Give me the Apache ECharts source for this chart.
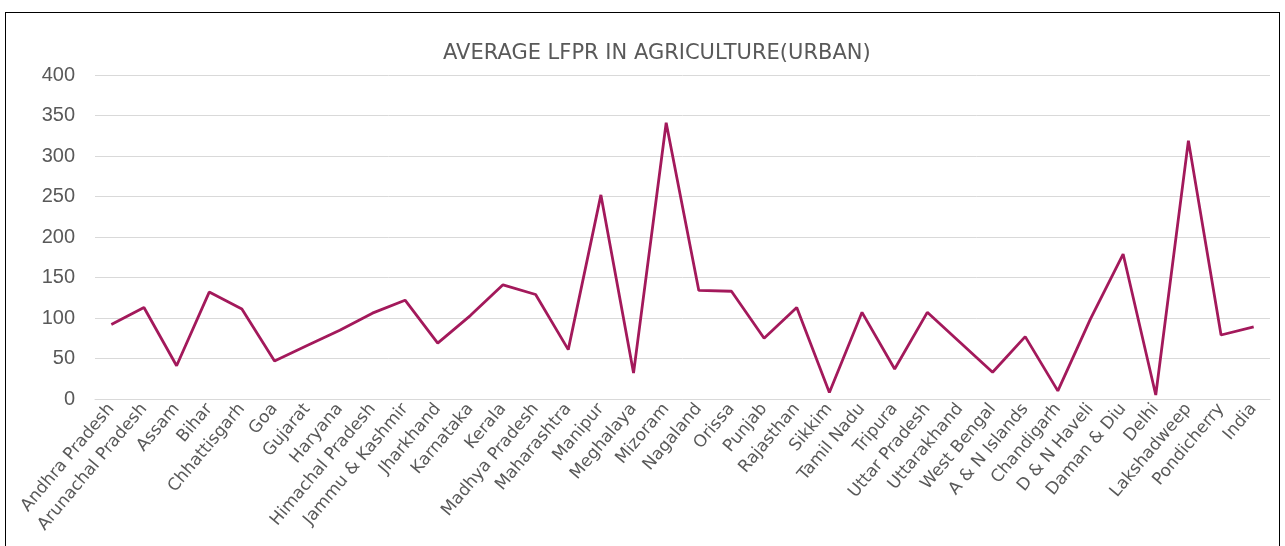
<!DOCTYPE html>
<html>
<head>
<meta charset="utf-8">
<script src="https://cdn.jsdelivr.net/npm/echarts@6/dist/echarts.min.js"></script>
<style>
  html, body { margin: 0; padding: 0; background: #ffffff; }
  #frame { position: absolute; left: 5px; top: 12px; width: 1275px; height: 560px; border: 1px solid #000; box-sizing: border-box; }
  #chart { position: absolute; left: 0; top: 0; width: 1285px; height: 546px; }
</style>
</head>
<body>
<div id="frame"></div>
<div id="chart"></div>
<script>
// States / UTs along the horizontal axis
const states = [
  'Andhra Pradesh', 'Arunachal Pradesh', 'Assam', 'Bihar', 'Chhattisgarh', 'Goa',
  'Gujarat', 'Haryana', 'Himachal Pradesh', 'Jammu & Kashmir', 'Jharkhand', 'Karnataka',
  'Kerala', 'Madhya Pradesh', 'Maharashtra', 'Manipur', 'Meghalaya', 'Mizoram',
  'Nagaland', 'Orissa', 'Punjab', 'Rajasthan', 'Sikkim', 'Tamil Nadu',
  'Tripura', 'Uttar Pradesh', 'Uttarakhand', 'West Bengal', 'A & N Islands', 'Chandigarh',
  'D & N Haveli', 'Daman & Diu', 'Delhi', 'Lakshadweep', 'Pondicherry', 'India'
];

// Average LFPR in agriculture, urban
const lfprUrban = [
  92, 113, 41, 132, 111, 47,
  66, 85, 106, 122, 69, 103,
  141, 129, 61, 252, 32, 341,
  134, 133, 75, 113, 8, 107,
  37, 107, 70, 33, 77, 10,
  99, 179, 5, 319, 79, 89
];

// Value axis ticks
const yTicks = { min: 0, max: 400, step: 50 };

const chart = echarts.init(document.getElementById('chart'), null, { renderer: 'canvas' });
const textColor = '#595959';
const numFont = "'Liberation Sans', Arial, sans-serif";
const wideFont = "'DejaVu Sans', Verdana, sans-serif";

chart.setOption({
  animation: false,
  title: {
    text: 'AVERAGE LFPR IN AGRICULTURE(URBAN)',
    left: 438,
    top: 38,
    textStyle: { color: textColor, fontSize: 21, fontWeight: 'normal', fontFamily: wideFont }
  },
  grid: { left: 95, right: 15, top: 75, bottom: 147, containLabel: false },
  xAxis: {
    type: 'category',
    data: states,
    boundaryGap: true,
    axisLine: { show: true, lineStyle: { color: '#d9d9d9', width: 1 } },
    axisTick: { show: false },
    axisLabel: {
      interval: 0,
      rotate: 50,
      margin: 7,
      color: textColor,
      fontSize: 17,
      fontFamily: wideFont
    }
  },
  yAxis: {
    type: 'value',
    min: yTicks.min,
    max: yTicks.max,
    interval: yTicks.step,
    axisLine: { show: false },
    axisTick: { show: false },
    splitLine: { lineStyle: { color: '#d9d9d9', width: 1 } },
    axisLabel: { margin: 20, color: textColor, fontSize: 20, fontFamily: numFont }
  },
  series: [{
    type: 'line',
    data: lfprUrban,
    symbol: 'none',
    lineStyle: { color: '#A3195B', width: 2.8 }
  }]
});
</script>
</body>
</html>
